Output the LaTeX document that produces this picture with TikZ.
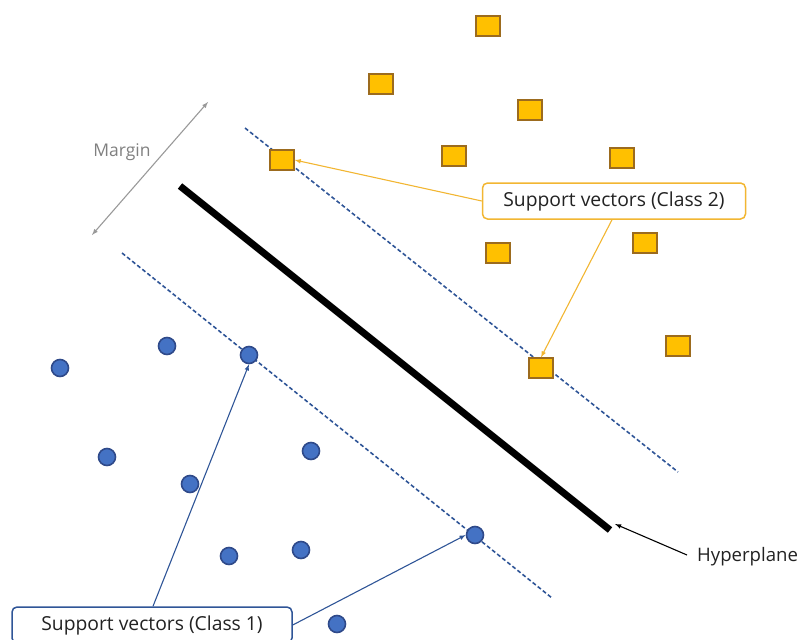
\documentclass[tikz,border=0pt]{standalone}
\usepackage{fontspec}
\setmainfont{Open Sans}
\usetikzlibrary{positioning,arrows}

\definecolor{sqfill}{HTML}{FFC000}
\definecolor{sqdraw}{HTML}{9C6B1E}
\definecolor{dotfill}{HTML}{4472C4}
\definecolor{dotdraw}{HTML}{2F4A8A}
\definecolor{navy}{HTML}{2F5597}
\definecolor{gold}{HTML}{F2B632}
\definecolor{ink}{HTML}{222222}

\begin{document}
\begin{tikzpicture}[x=1pt,y=-1pt,
class2/.style = {rectangle, draw=sqdraw, line width=1.3pt, fill=sqfill, minimum width=24pt,
                 minimum height=20pt, inner sep=0pt},
class1/.style = {circle, draw=dotdraw, line width=1.6pt, fill=dotfill, minimum size=17pt, inner sep=0pt},
label/.style = {rectangle, rounded corners=5pt, line width=1.5pt, fill=white, minimum width=263pt,
                minimum height=36pt, text=ink, font=\fontsize{19.3}{21}\selectfont},
margin/.style = {draw=navy, line width=1.6pt, dash pattern=on 4pt off 2.5pt},
line/.style = {draw, line width=1.1pt, -latex}]

\useasboundingbox (0,0) rectangle (799,639);

% hyperplane and the two margins
\coordinate (hpA) at (180,186);
\coordinate (hpB) at (610,530);
\draw[line width=7pt] (hpA) -- (hpB);
\coordinate (upA) at (245,128);
\coordinate (upB) at (678,472);
\path[margin] (upA) -- (upB);
\coordinate (loA) at (122,253);
\coordinate (loB) at (552,598);
\path[margin] (loA) -- (loB);

% class 2
\node [class2] (s1) at (488,26) {};
\node [class2] (s2) at (381,84) {};
\node [class2] (s3) at (530,110) {};
\node [class2] (s4) at (282,160) {};
\node [class2] (s5) at (454,156) {};
\node [class2] (s6) at (622,158) {};
\node [class2] (s7) at (498,253) {};
\node [class2] (s8) at (645,243) {};
\node [class2] (s9) at (541,368) {};
\node [class2] (s10) at (678,346) {};

% class 1
\node [class1] (c1) at (60,368) {};
\node [class1] (c2) at (167,346) {};
\node [class1] (c3) at (249,355) {};
\node [class1] (c4) at (107,457) {};
\node [class1] (c5) at (190,484) {};
\node [class1] (c6) at (311,451) {};
\node [class1] (c7) at (229,556) {};
\node [class1] (c8) at (301,550) {};
\node [class1] (c9) at (475,535) {};
\node [class1] (c10) at (337,624) {};

% labels
\node [label, draw=gold] (sv2) at (614,201) {Support vectors (Class 2)};
\node [label, draw=navy, minimum width=280pt] (sv1) at (152,625) {Support vectors (Class 1)};
\node [anchor=west, inner sep=0pt, text=ink, font=\fontsize{18.6}{20}\selectfont] (hyp) at (697,557) {Hyperplane};
\coordinate (mgA) at (92,235);
\coordinate (mgB) at (208,102);
\node [text=gray, font=\fontsize{17.5}{20}\selectfont] (mgtext) at (122,152) {Margin};

\begin{scope}[every path/.style=line]
\path [draw=gold] (sv2.west) -- (s4.east);
\path [draw=gold] ([xshift=-2pt]sv2.south) -- (s9.north);
\path [draw=navy] ([xshift=1pt]sv1.north) -- (c3.south);
\path [draw=navy] (sv1.east) -- (c9.west);
\path (hyp.west) ++(-10pt,2pt) -- ([xshift=5pt,yshift=6pt]hpB);
\path [draw=gray!80, latex-latex] (mgA) -- (mgB);
\end{scope}
\end{tikzpicture}
\end{document}
